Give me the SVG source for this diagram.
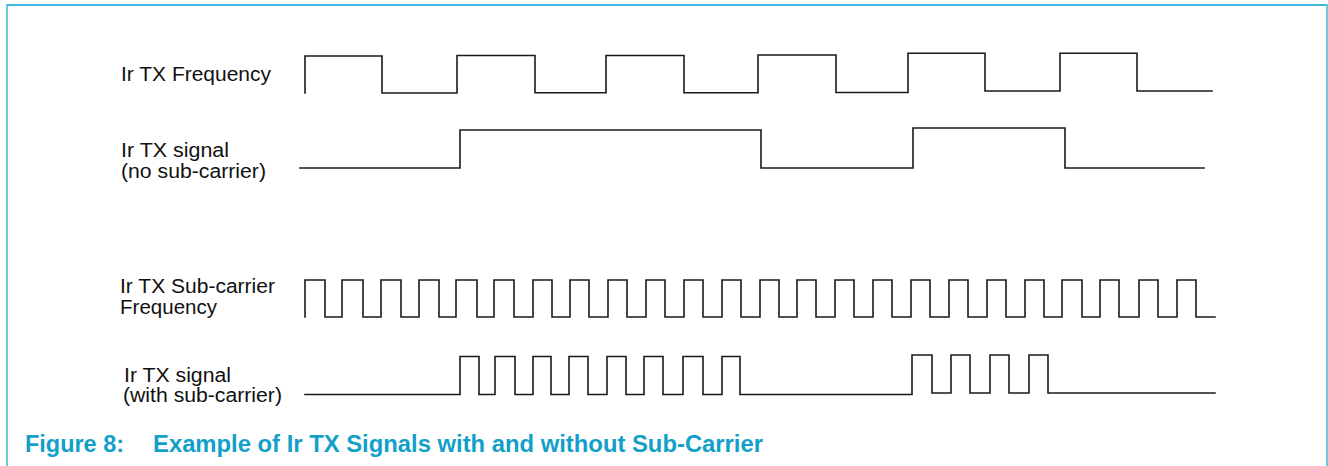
<svg xmlns="http://www.w3.org/2000/svg" width="1328" height="466" viewBox="0 0 1328 466">
<style>
.lbl{font-family:"Liberation Sans",Arial,sans-serif;font-size:20px;fill:#111}
.cap{font-family:"Liberation Sans",Arial,sans-serif;font-size:23px;font-weight:bold;fill:#129fc9}
.wave{fill:none;stroke:#1a1a1a;stroke-width:1.6;stroke-linejoin:miter;stroke-linecap:square}
.frame{fill:none;stroke:#6ccbe0;stroke-width:2}
</style>
<rect width="1328" height="466" fill="#ffffff"/>
<g id="frame">
<path class="frame" d="M7,466 V5 H1327 V466"/>
<path d="M7,5 H1327" stroke="#3cb6da" stroke-width="2"/>
</g>
<g id="labels">
<text class="lbl" x="121" y="81" textLength="150" lengthAdjust="spacingAndGlyphs">Ir TX Frequency</text>
<text class="lbl" x="121" y="156.5" textLength="108" lengthAdjust="spacingAndGlyphs">Ir TX signal</text>
<text class="lbl" x="121" y="177.5" textLength="145" lengthAdjust="spacingAndGlyphs">(no sub-carrier)</text>
<text class="lbl" x="120" y="292.5" textLength="155" lengthAdjust="spacingAndGlyphs">Ir TX Sub-carrier</text>
<text class="lbl" x="120" y="313.5" textLength="97" lengthAdjust="spacingAndGlyphs">Frequency</text>
<text class="lbl" x="124" y="381.5" textLength="107" lengthAdjust="spacingAndGlyphs">Ir TX signal</text>
<text class="lbl" x="123" y="402" textLength="159" lengthAdjust="spacingAndGlyphs">(with sub-carrier)</text>
</g>
<g id="waveforms">
<path id="ir-tx-frequency" class="wave" d="M305,93 V56 H382 V93 H457 V55.5 H535 V92.7 H606 V55.5 H684 V92.7 H758 V55 H836 V92.5 H908 V53.3 H985 V91 H1060 V53.3 H1137 V91 H1212"/>
<path id="ir-tx-signal-nosub" class="wave" d="M300,168 H460 V130 H761 V168 H913 V128 H1065 V168 H1204"/>
<path id="ir-tx-subcarrier" class="wave" d="M305,317 V280 H325 V317 H342 V280 H363 V317 H381 V280 H401 V317 H419 V280 H439 V317 H456 V280 H477 V317 H494 V280 H514 V317 H533 V280 H552 V317 H570 V280 H589 V317 H608 V280 H627 V317 H646 V280 H665 V317 H684 V280 H703 V317 H722 V280 H741 V317 H760 V280 H779 V317 H797 V280 H816 V317 H835 V280 H854 V317 H873 V280 H892 V317 H911 V280 H930 V317 H949 V280 H968 V317 H987 V280 H1006 V317 H1025 V280 H1044 V317 H1062 V280 H1082 V317 H1100 V280 H1119 V317 H1139 V280 H1158 V317 H1177 V280 H1196 V317 H1215"/>
<path id="ir-tx-signal-sub" class="wave" d="M305,394.5 H460 V356.5 H479 V394.5 H495 V356.5 H515 V394.5 H533 V356.5 H551 V394.5 H569 V356.5 H588 V394.5 H607 V356.5 H626 V394.5 H644 V356.5 H663 V394.5 H683 V356.5 H703 V394.5 H722 V356.5 H740 V394.5 H912 V355 H932 V393 H951 V355 H970 V393 H990 V355 H1009 V393 H1029 V355 H1048 V393 H1215"/>
</g>
<g id="caption">
<text class="cap" x="25" y="452" textLength="99" lengthAdjust="spacingAndGlyphs">Figure 8:</text>
<text class="cap" x="153" y="452" textLength="610" lengthAdjust="spacingAndGlyphs">Example of Ir TX Signals with and without Sub-Carrier</text>
</g>
</svg>
